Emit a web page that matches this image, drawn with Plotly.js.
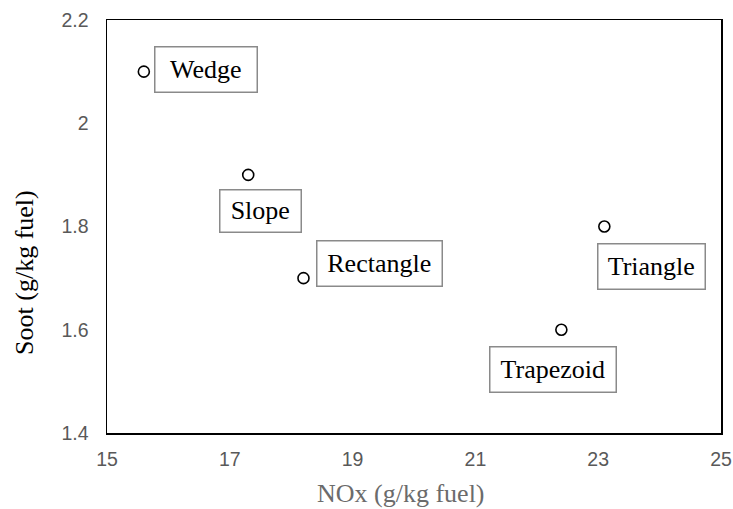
<!DOCTYPE html>
<html>
<head>
<meta charset="utf-8">
<script src="https://cdn.plot.ly/plotly-3.0.1.min.js"></script>
<style>html,body{margin:0;padding:0;background:#fff;}#chart{width:733px;height:509px;}</style>
</head>
<body>
<div id="chart"></div>
<script>
// Data
const shapes = ["Wedge", "Slope", "Rectangle", "Triangle", "Trapezoid"];
const noxValues = [15.6, 17.3, 18.2, 23.1, 22.4];
const sootValues = [2.1, 1.9, 1.7, 1.8, 1.6];
const xTickValues = [15, 17, 19, 21, 23, 25];
const yTickValues = [1.4, 1.6, 1.8, 2.0, 2.2];

// Label box layout (pixel offsets from the point to the box centre, box sizes)
const labelDx = [62.5, 12, 76.5, 47.5, -8];
const labelDy = [-2, 36.6, -15, 39.5, 40];
const labelW = [103, 82, 126, 108, 127];
const labelH = [46, 43, 46, 46, 46];

const serif = 'Liberation Serif, Times New Roman, Times, serif';
const bw = 1.5;
const annotations = shapes.map((s, i) => ({
  x: noxValues[i], y: sootValues[i], xref: 'x', yref: 'y',
  text: s, showarrow: false,
  xanchor: 'center', yanchor: 'middle',
  xshift: labelDx[i], yshift: -labelDy[i],
  width: labelW[i] - bw - 1, height: labelH[i] - bw - 1,
  borderpad: 0, borderwidth: bw, bordercolor: '#8a8a8a',
  bgcolor: 'rgba(255,255,255,0)',
  align: 'center', valign: 'middle',
  font: {family: serif, size: 26, color: '#000'}
}));

annotations.push({
  xref: 'paper', yref: 'paper', x: 0.479, y: -0.147,
  xanchor: 'center', yanchor: 'middle', showarrow: false,
  text: 'NOx (g/kg fuel)',
  font: {family: serif, size: 26, color: '#6b6b6b'}
});
annotations.push({
  xref: 'paper', yref: 'paper', x: -0.1336, y: 0.39,
  xanchor: 'center', yanchor: 'middle', showarrow: false, textangle: -90,
  text: 'Soot (g/kg fuel)',
  font: {family: serif, size: 26, color: '#000'}
});

const trace = {
  x: noxValues, y: sootValues, text: shapes,
  type: 'scatter', mode: 'markers',
  marker: {symbol: 'circle', size: 11, color: '#fff', line: {color: '#000', width: 1.6}},
  hoverinfo: 'x+y+text'
};

const axisFont = {family: 'Liberation Sans, Arial, sans-serif', size: 19.5, color: '#595959'};
const layout = {
  width: 733, height: 509,
  margin: {l: 107, r: 12, t: 20, b: 76, pad: 0},
  paper_bgcolor: '#fff', plot_bgcolor: '#fff',
  showlegend: false,
  xaxis: {
    range: [15, 25], autorange: false, tickvals: xTickValues,
    showgrid: false, zeroline: false,
    showline: true, linecolor: '#000', linewidth: 1.5, mirror: true,
    ticks: 'outside', ticklen: 8, tickcolor: 'rgba(0,0,0,0)',
    tickfont: axisFont
  },
  yaxis: {
    range: [1.4, 2.2], autorange: false, tickvals: yTickValues,
    ticktext: yTickValues.map(v => String(+v.toFixed(1))),
    showgrid: false, zeroline: false,
    showline: true, linecolor: '#000', linewidth: 1.5, mirror: true,
    ticks: 'outside', ticklen: 13, tickcolor: 'rgba(0,0,0,0)',
    tickfont: axisFont
  },
  annotations: annotations
};

Plotly.newPlot('chart', [trace], layout, {displayModeBar: false, staticPlot: true});
</script>
</body>
</html>
